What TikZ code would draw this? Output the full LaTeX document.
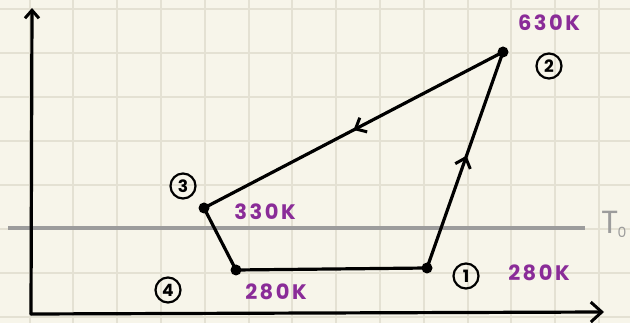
\documentclass[tikz,border=0pt]{standalone}
\usepackage{fontspec}
\setmainfont{Poppins}
\usetikzlibrary{decorations.markings,arrows.meta}
\definecolor{paper}{HTML}{F7F5EA}
\definecolor{gridc}{HTML}{E4E1D3}
\definecolor{purp}{HTML}{8A2C98}
\definecolor{tline}{HTML}{9C9C9C}
\tikzset{
  pt/.style={circle,fill=black,inner sep=0pt,minimum size=11pt},
  lbl/.style={text=purp,font=\fontsize{21}{21}\selectfont\addfontfeatures{LetterSpace=12}\bfseries,inner sep=0pt},
  num/.style={draw,circle,line width=2.2pt,inner sep=1pt,minimum size=25pt,font=\bfseries\fontsize{17}{17}\selectfont},
  edge/.style={line width=3.2pt,line cap=round,line join=round},
  midarrow/.style={postaction={decorate},decoration={markings,mark=at position #1 with {\arrow{Straight Barb[length=9pt,width=16pt,line width=3pt]}}}}
}
\begin{document}
\begin{tikzpicture}[x=1pt,y=-1pt]
\fill[paper] (0,0) rectangle (630,323);
\useasboundingbox (0,0) rectangle (630,323);
\clip (0,0) rectangle (630,323);
% grid
\foreach \i in {0,...,14}{\draw[gridc,line width=2pt] ({29.6+43.8*\i},0) -- ({29.6+43.8*\i},323);}
\foreach \j in {0,...,7}{\draw[gridc,line width=2pt] (0,{9+44*\j}) -- (630,{9+44*\j});}
% T0 line
\coordinate (tl) at (8,228);
\coordinate (tr) at (585,228);
\draw[tline,line width=3.5pt] (tl) -- (tr);
\node[text=tline,font=\fontsize{32}{32}\selectfont,anchor=west,inner sep=0pt] (T0) at (601,224) {T\kern-1pt\raisebox{-4pt}{\fontsize{14}{14}\selectfont 0}};
% axes
\coordinate (o) at (31,314);
\coordinate (ytop) at (32,8);
\coordinate (xr) at (604,312);
\draw[edge,-{Straight Barb[length=8pt,width=14pt,line width=3pt]}] (o) -- (ytop);
\draw[edge,-{Straight Barb[length=11pt,width=20pt,line width=3pt]}] (o) -- (xr);
% points
\node[pt] (p1) at (427,268) {};
\node[pt] (p2) at (503,52) {};
\node[pt] (p3) at (204,208) {};
\node[pt] (p4) at (236,270) {};
% cycle
\draw[edge] (p4.center) -- (p1.center);
\draw[edge,midarrow=0.52] (p1.center) -- (p2.center);
\draw[edge,midarrow=0.5] (p2.center) -- (p3.center);
\draw[edge] (p3.center) -- (p4.center);
% labels
\node[num] (n1) at (466,276) {1};
\node[num] (n2) at (549,66) {2};
\node[num] (n3) at (183,186) {3};
\node[num] (n4) at (168,290) {4};
\node[lbl] (l2) at (549,23) {630K};
\node[lbl] (l3) at (265,212) {330K};
\node[lbl] (l4) at (276,292) {280K};
\node[lbl] (l1) at (539,273) {280K};
\end{tikzpicture}
\end{document}
